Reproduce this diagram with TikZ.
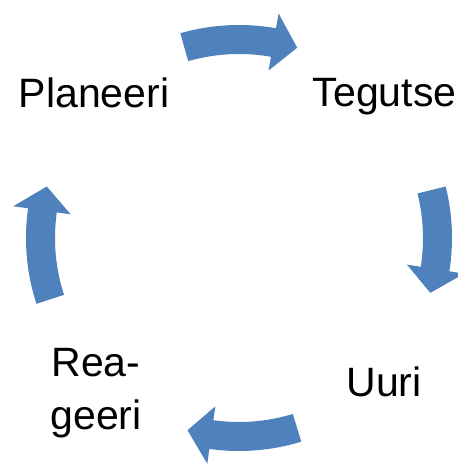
\documentclass[tikz,border=0pt]{standalone}
\usepackage{fontspec}
\setmainfont{Liberation Sans}
\definecolor{sablue}{RGB}{79,129,189}
\newcommand{\cyclearrow}[3]{%
  \fill[arrowfill] (#1:213pt) arc[start angle=#1, end angle=#2, radius=213pt]
    -- (#2:228pt) -- (#3:199pt) -- (#2:170pt) -- (#2:184pt)
    arc[start angle=#2, end angle=#1, radius=184pt] -- cycle;}
\begin{document}
\begin{tikzpicture}[x=1pt,y=1pt,
  arrowfill/.style={fill=sablue},
  lbl/.style={font=\fontsize{41}{53}\selectfont, anchor=base, inner sep=0pt, align=center}]
\useasboundingbox (0,0) rectangle (458,464);
\begin{scope}[shift={(239,226)}]
\cyclearrow{106}{80}{73}
\cyclearrow{14}{-9}{-16}
\cyclearrow{-73}{-98}{-105}
\cyclearrow{198}{172}{165}
\end{scope}
\node[lbl] (plan) at (94,356) {Planeeri};
\node[lbl] (teg) at (384.5,357) {Tegutse};
\node[lbl] (uuri) at (384,67) {Uuri};
\node[lbl] (rea) at (96,87) {Rea-};
\node[lbl] (geeri) at (96,34) {geeri};
\end{tikzpicture}
\end{document}
